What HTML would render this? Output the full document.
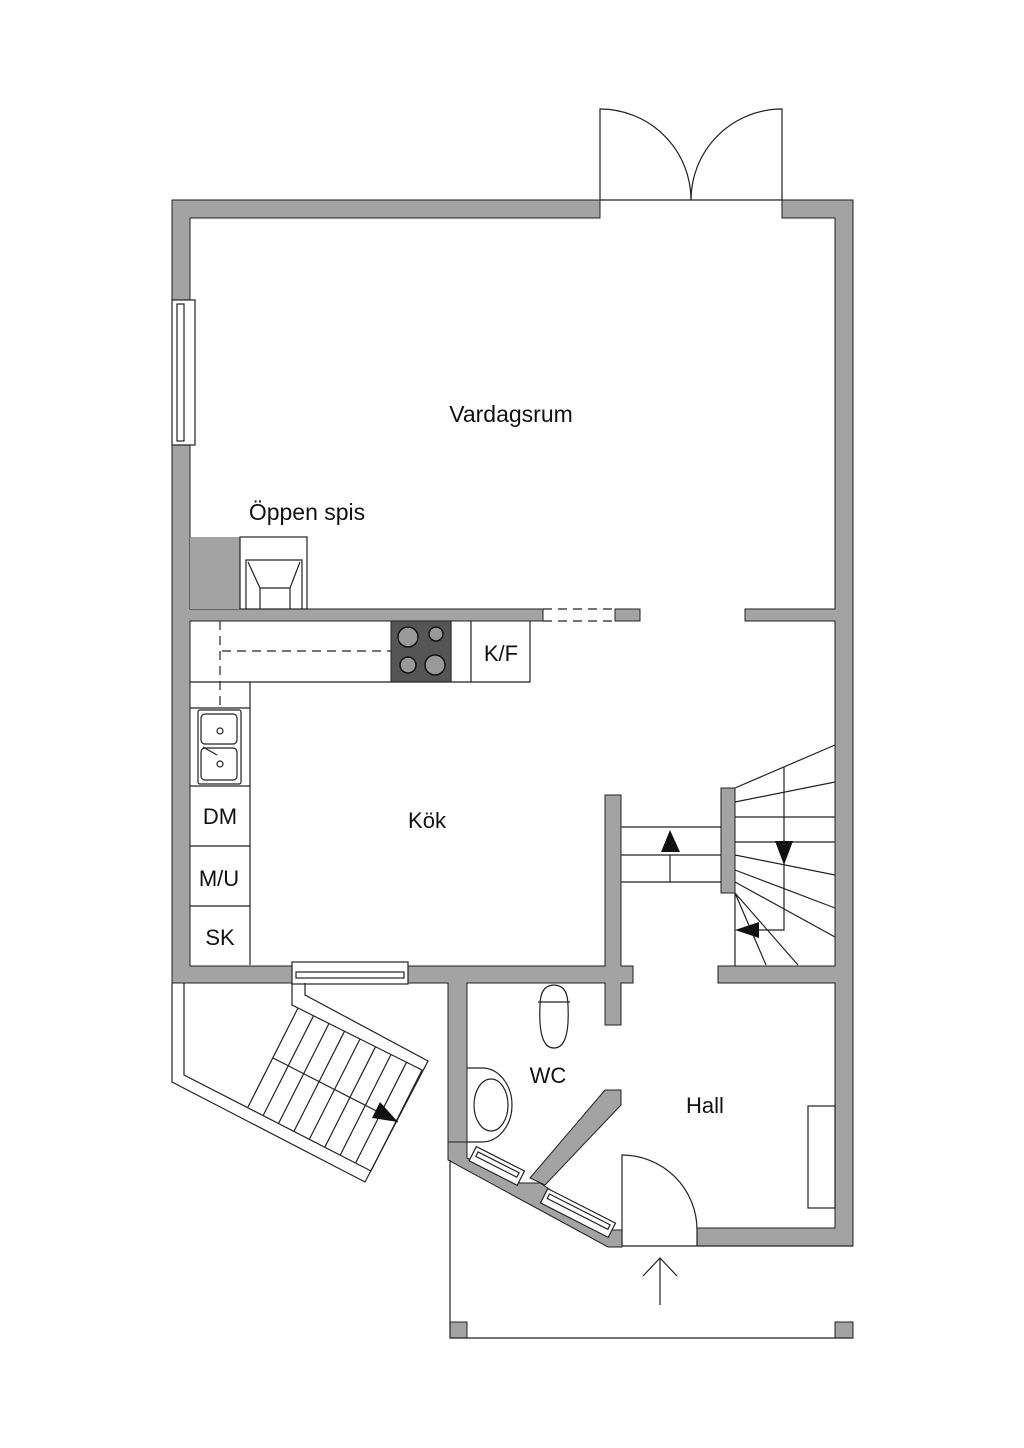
<!DOCTYPE html>
<html><head><meta charset="utf-8"><style>
html,body{margin:0;padding:0;background:#fff;}
svg{display:block}
text{font-family:"Liberation Sans",sans-serif;fill:#111}
</style></head><body>
<svg width="1024" height="1448" viewBox="0 0 1024 1448" xmlns="http://www.w3.org/2000/svg">
<g fill="#a3a3a3" stroke="#222" stroke-width="1">
<path d="M172,200 H600 V218 H190 V609 H543 V621 H190 V966 H292 V983 H172 Z"/>
<path d="M782,200 H853 V1246 H697 V1228 H835 V983 H718 V966 H835 V621 H745 V609 H835 V218 H782 Z"/>
<rect x="615" y="609" width="25" height="12"/>
<rect x="190" y="537" width="50" height="72" stroke="none"/>
<path d="M408,966 H605 V795 H621 V966 H633 V983 H621 V1025 H605 V983 H467 V1142 H448 V983 H408 Z"/>
<path d="M605,1090 L621,1090 L621,1105 L545,1185 L530,1178 Z"/>
<path d="M448,1142 L467,1142 L467,1158 L520,1183 L540,1183 L612,1230 L622,1230 L622,1247 L608,1247 L448,1160 Z"/>
<rect x="721" y="788" width="14" height="105"/>
<rect x="450" y="1322" width="17" height="16"/>
<rect x="835" y="1322" width="18" height="16"/>
</g>
<g fill="none" stroke="#222" stroke-width="1.2">
<path d="M600,200 V109 A91,91 0 0 1 691,200"/>
<path d="M782,200 V109 A91,91 0 0 0 691,200"/>
<line x1="600" y1="200" x2="782" y2="200"/>
<rect x="172" y="300" width="23" height="145" fill="#fff"/>
<rect x="177" y="304" width="7" height="137"/>
<rect x="240" y="537" width="67" height="72" fill="#fff"/>
<path d="M246,609 V560 H302 V609 M248,562 L260,588 H290 L300,562 M260,588 V609 M290,588 V609"/>
<path d="M543,609 H615 M543,621 H615" stroke-dasharray="9,6"/>
<path d="M222,651 H391 M220,621 V708" stroke-dasharray="9,6"/>
<path d="M190,682 H250 V965 M250,682 H530 V621 M451,621 V682 M471,621 V682 M190,708 H250 M190,786 H250 M190,846 H250 M190,906 H250"/>
<rect x="198" y="710" width="43" height="74" rx="2"/>
<rect x="201" y="714" width="36" height="30" rx="4"/>
<rect x="201" y="748" width="36" height="32" rx="4"/>
<circle cx="220" cy="731" r="3"/><circle cx="220" cy="764" r="3"/>
<line x1="203" y1="747" x2="217" y2="755"/>
<path d="M621,827 H721 M621,855 H721 M621,882 H721 M670,855 V882"/>
<path d="M735,788 L835,745 M735,802 L835,782 M735,817 H835 M735,842 H835 M735,855 L835,875 M735,870 L835,908 M735,882 L835,937 M735,893 L766,965 M735,893 L798,965 M735,893 V966 M784,767 V930 H755"/>
<rect x="292" y="962" width="116" height="22" fill="#fff"/>
<rect x="296" y="972" width="108" height="6"/>
<!-- outdoor stair outline -->
<path d="M172,983 V1082 L365,1182 L428,1061 L305,995 V983"/>
<path d="M184,983 V1075 L371,1171 L422,1070 L292,1005 V983"/>
<path d="M298,1008 L248,1107 M313.5,1015.8 L263.4,1115 M329,1023.5 L278.8,1123 M344.5,1031.3 L294.1,1131 M360,1039 L309.5,1139 M375.5,1046.8 L324.9,1147 M391,1054.5 L340.3,1155 M406.5,1062.3 L355.6,1163 M273,1058 L398,1122"/>
<!-- WC -->
<path d="M540,1006 Q540,985 554,985 Q568,985 568,1006 Q570,1048 554,1048 Q538,1048 540,1006 Z" fill="#fff"/>
<path d="M538,1002 H570"/>
<path d="M467,1068 H482 A30,37 0 0 1 482,1142 H467"/>
<ellipse cx="491" cy="1105" rx="17" ry="26"/>
<g transform="rotate(27 495 1165)"><rect x="470" y="1157" width="54" height="16" fill="#fff"/><rect x="474" y="1161" width="46" height="5"/></g>
<g transform="rotate(27 578 1213)"><rect x="540" y="1205" width="76" height="16" fill="#fff"/><rect x="544" y="1209" width="68" height="5"/></g>
<path d="M622,1245 V1155 A75,75 0 0 1 697,1230 V1246"/>
<rect x="808" y="1106" width="27" height="102"/>
<path d="M450,1160 V1338 H853 M622,1246 H853"/>
<path d="M660,1305 V1258 M643,1276 L660,1258 L677,1276"/>
</g>
<rect x="391" y="621" width="60" height="61" fill="#555" stroke="#222"/>
<g fill="#999" stroke="#111" stroke-width="1.5">
<circle cx="408" cy="637" r="10"/><circle cx="436" cy="634" r="7"/>
<circle cx="408" cy="665" r="8"/><circle cx="435" cy="665" r="10"/>
</g>
<g fill="#111">
<polygon points="670,830 661,852 680,852"/>
<polygon points="775,841 793,841 784,865"/>
<polygon points="735,930 759,922 759,938"/>
<polygon points="380,1102 372,1118 398,1122"/>
</g>
<text x="511" y="422" font-size="23" text-anchor="middle">Vardagsrum</text>
<text x="307" y="520" font-size="23" text-anchor="middle">Öppen spis</text>
<text x="501" y="661" font-size="22" text-anchor="middle">K/F</text>
<text x="220" y="824" font-size="22" text-anchor="middle">DM</text>
<text x="219" y="886" font-size="22" text-anchor="middle">M/U</text>
<text x="220" y="945" font-size="22" text-anchor="middle">SK</text>
<text x="427" y="828" font-size="22" text-anchor="middle">Kök</text>
<text x="548" y="1083" font-size="22" text-anchor="middle">WC</text>
<text x="705" y="1113" font-size="22" text-anchor="middle">Hall</text>
</svg>
</body></html>
